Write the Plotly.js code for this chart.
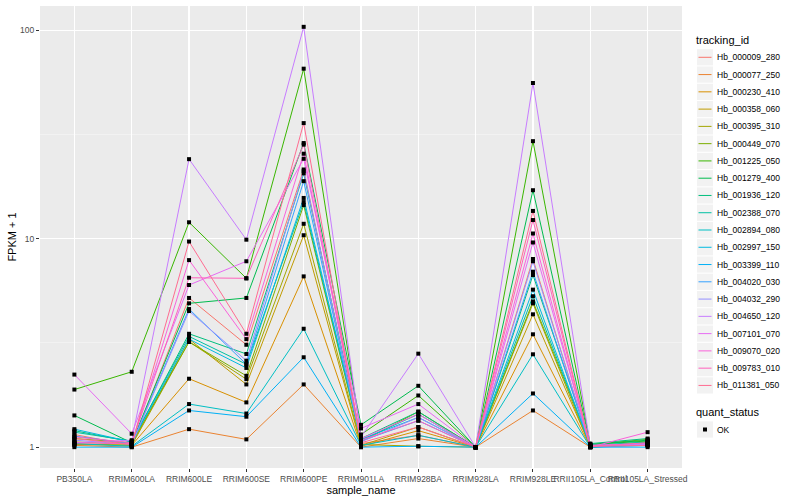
<!DOCTYPE html>
<html><head><meta charset="utf-8">
<script src="https://cdn.plot.ly/plotly-3.0.1.min.js"></script>
<style>html,body{margin:0;padding:0;background:#fff}#chart{width:800px;height:500px}</style>
</head><body><div id="chart"></div>
<script>
const samples = ["PB350LA","RRIM600LA","RRIM600LE","RRIM600SE","RRIM600PE","RRIM901LA","RRIM928BA","RRIM928LA","RRIM928LE","RRII105LA_Control","RRII105LA_Stressed"];
const trackingIds = ["Hb_000009_280","Hb_000077_250","Hb_000230_410","Hb_000358_060","Hb_000395_310","Hb_000449_070","Hb_001225_050","Hb_001279_400","Hb_001936_120","Hb_002388_070","Hb_002894_080","Hb_002997_150","Hb_003399_110","Hb_004020_030","Hb_004032_290","Hb_004650_120","Hb_007101_070","Hb_009070_020","Hb_009783_010","Hb_011381_050"];
const colors = ["#F8766D","#EA8331","#D89000","#C09B00","#A3A500","#7CAE00","#39B600","#00BB4E","#00BF7D","#00C1A3","#00BFC4","#00BAE0","#00B0F6","#35A2FF","#9590FF","#C77CFF","#E76BF3","#FA62DB","#FF62BC","#FF6C91"];

// FPKM + 1 per tracking id, in sample order
const hb000009_280 = [1.15, 1.02, 5.2, 3.1, 21.5, 1.04, 1.14, 1.0, 8.0, 1.0, 1.03];
const hb000077_250 = [1.02, 1.0, 1.22, 1.09, 2.0, 1.0, 1.10, 1.0, 1.50, 1.0, 1.05];
const hb000230_410 = [1.03, 1.02, 2.13, 1.64, 6.6, 1.01, 1.20, 1.0, 3.48, 1.0, 1.04];
const hb000358_060 = [1.06, 1.03, 3.3, 2.0, 10.4, 1.02, 1.25, 1.0, 4.34, 1.01, 1.05];
const hb000395_310 = [1.04, 1.02, 3.2, 2.12, 11.8, 1.03, 1.01, 1.0, 4.9, 1.0, 1.06];
const hb000449_070 = [1.10, 1.05, 3.2, 2.2, 14.5, 1.06, 1.48, 1.0, 5.0, 1.03, 1.09];
const hb001225_050 = [1.89, 2.30, 12.0, 6.46, 65.5, 1.15, 1.77, 1.0, 29.4, 1.03, 1.07];
const hb001279_400 = [1.42, 1.05, 4.9, 5.2, 28.8, 1.28, 1.97, 1.0, 17.1, 1.03, 1.08];
const hb001936_120 = [1.20, 1.06, 3.5, 2.8, 20.6, 1.10, 1.48, 1.0, 6.7, 1.04, 1.10];
const hb002388_070 = [1.18, 1.07, 3.4, 2.5, 15.0, 1.08, 1.44, 1.0, 5.3, 1.02, 1.06];
const hb002894_080 = [1.04, 1.01, 1.61, 1.45, 3.7, 1.02, 1.14, 1.0, 2.79, 1.0, 1.02];
const hb002997_150 = [1.22, 1.06, 3.3, 2.4, 15.7, 1.09, 1.39, 1.0, 5.7, 1.01, 1.04];
const hb003399_110 = [1.0, 1.0, 1.50, 1.40, 2.7, 1.0, 1.01, 1.0, 1.81, 1.0, 1.0];
const hb004020_030 = [1.13, 1.04, 4.6, 2.5, 18.9, 1.07, 1.34, 1.0, 6.95, 1.01, 1.03];
const hb004032_290 = [1.08, 1.03, 4.5, 2.6, 21.1, 1.06, 1.39, 1.0, 7.8, 1.01, 1.02];
const hb004650_120 = [1.05, 1.08, 24.1, 9.9, 104, 1.12, 2.81, 1.0, 55.9, 1.02, 1.03];
const hb007101_070 = [2.23, 1.16, 6.0, 7.8, 24.2, 1.23, 1.61, 1.0, 9.6, 1.02, 1.04];
const hb009070_020 = [1.05, 1.04, 7.9, 3.3, 25.6, 1.10, 1.44, 1.0, 10.6, 1.0, 1.18];
const hb009783_010 = [1.12, 1.05, 6.5, 6.46, 28.3, 1.08, 1.34, 1.0, 12.3, 1.01, 1.05];
const hb011381_050 = [1.10, 1.03, 9.7, 3.5, 35.9, 1.05, 1.25, 1.0, 13.6, 1.01, 1.02];
const quantStatus = ["OK"];

const seriesValues = [hb000009_280,hb000077_250,hb000230_410,hb000358_060,hb000395_310,hb000449_070,hb001225_050,hb001279_400,hb001936_120,hb002388_070,hb002894_080,hb002997_150,hb003399_110,hb004020_030,hb004032_290,hb004650_120,hb007101_070,hb009070_020,hb009783_010,hb011381_050];

const font = "Liberation Sans, Arial, Helvetica, sans-serif";
const traces = trackingIds.map((id, i) => ({
  type: "scatter", mode: "lines", name: id, x: samples, y: seriesValues[i],
  line: {color: colors[i], width: 1}, showlegend: false, hoverinfo: "skip"
}));
const allX = [], allY = [];
seriesValues.forEach(v => v.forEach((y, j) => { allX.push(samples[j]); allY.push(y); }));
traces.push({
  type: "scatter", mode: "markers", name: quantStatus[0], x: allX, y: allY,
  marker: {color: "#000000", symbol: "square", size: 4}, showlegend: false, hoverinfo: "skip"
});

// ggplot-style legend drawn in paper coordinates
const M = {l: 40, r: 118, t: 6, b: 32}, W = 800, H = 500;
const pw = W - M.l - M.r, ph = H - M.t - M.b;
const px = v => (v - M.l) / pw;
const py = v => (H - M.b - v) / ph;
const shapes = [], annotations = [];
const keyL = 697, keyR = 713, textX = 716;
function keyBox(cy) {
  shapes.push({type: "rect", xref: "paper", yref: "paper", x0: px(keyL), x1: px(keyR), y0: py(cy + 8.1), y1: py(cy - 8.1),
    fillcolor: "#F2F2F2", line: {width: 0}, layer: "above"});
}
function label(text, x, cy, size) {
  annotations.push({xref: "paper", yref: "paper", x: px(x), y: py(cy), xanchor: "left", yanchor: "middle",
    text: text, showarrow: false, borderpad: 0, font: {family: font, size: size, color: "#000000"}});
}
label("tracking_id", 695, 40, 11);
trackingIds.forEach((id, i) => {
  const cy = 57.3 + i * 17.27;
  keyBox(cy);
  shapes.push({type: "line", xref: "paper", yref: "paper", x0: px(698.5), x1: px(711.5), y0: py(cy), y1: py(cy),
    line: {color: colors[i], width: 1}, layer: "above"});
  label(id, textX, cy, 8.5);
});
label("quant_status", 695, 412, 11);
keyBox(429.5);
shapes.push({type: "rect", xref: "paper", yref: "paper", x0: px(703), x1: px(707), y0: py(431.5), y1: py(427.5),
  fillcolor: "#000000", line: {width: 0}, layer: "above"});
label(quantStatus[0], textX, 429.5, 8.5);

const layout = {
  width: W, height: H, margin: M,
  paper_bgcolor: "#FFFFFF", plot_bgcolor: "#EBEBEB",
  font: {family: font, size: 9, color: "#000000"},
  xaxis: {
    type: "category", range: [-0.6, 10.6], tickangle: 0,
    showgrid: true, gridcolor: "#FFFFFF", gridwidth: 1.1, zeroline: false,
    ticks: "outside", ticklen: 3, tickcolor: "#333333", tickwidth: 1,
    tickfont: {family: font, size: 8.5, color: "#4D4D4D"},
    title: {text: "sample_name", font: {family: font, size: 11, color: "#000000"}, standoff: 0},
    showline: false
  },
  yaxis: {
    type: "log", range: [-0.1, 2.117],
    tickmode: "array", tickvals: [1, 10, 100], ticktext: ["1", "10", "100"],
    showgrid: true, gridcolor: "#FFFFFF", gridwidth: 1.1, zeroline: false,
    ticks: "outside", ticklen: 3, tickcolor: "#333333", tickwidth: 1,
    tickfont: {family: font, size: 8.5, color: "#4D4D4D"},
    minor: {tickmode: "array", tickvals: [3.1623, 31.623], showgrid: true, gridcolor: "#F7F7F7", gridwidth: 0.6, ticks: ""},
    title: {text: "FPKM + 1", font: {family: font, size: 11, color: "#000000"}, standoff: 1},
    showline: false
  },
  shapes: shapes, annotations: annotations,
  showlegend: false
};
Plotly.newPlot("chart", traces, layout, {displayModeBar: false, staticPlot: true});
</script>
</body></html>
